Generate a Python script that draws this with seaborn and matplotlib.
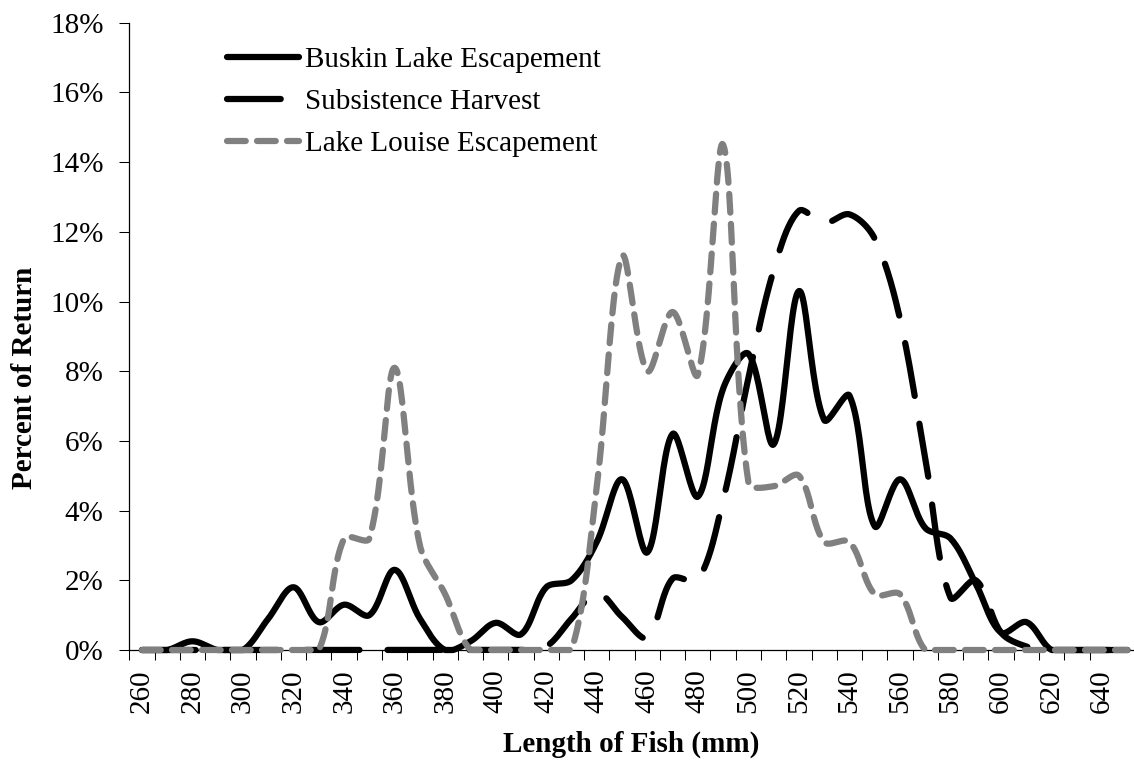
import numpy as np
import seaborn as sns
import matplotlib.pyplot as plt
from matplotlib.ticker import FuncFormatter

# Length classes (mm), one category every 10 mm
lengths = [260, 270, 280, 290, 300, 310, 320, 330, 340, 350,
           360, 370, 380, 390, 400, 410, 420, 430, 440, 450,
           460, 470, 480, 490, 500, 510, 520, 530, 540, 550,
           560, 570, 580, 590, 600, 610, 620, 630, 640, 650]

# Percent of return per length class
buskin = [0, 0, 0.25, 0, 0, 0.9, 1.8, 0.8, 1.3, 1.0,
          2.3, 0.9, 0, 0.25, 0.78, 0.45, 1.8, 2.0, 3.1, 4.9,
          2.8, 6.2, 4.4, 7.5, 8.5, 5.9, 10.3, 6.6, 7.3, 3.55,
          4.9, 3.5, 3.2, 1.9, 0.5, 0.8, 0, 0, 0, 0]
subsistence = [0, 0, 0, 0, 0, 0, 0, 0, 0, 0,
               0, 0, 0, 0, 0, 0, 0.1, 0.9, 1.65, 0.95,
               0.35, 2.05, 2.0, 4.3, 7.8, 10.9, 12.6, 12.25, 12.5, 11.8,
               9.5, 5.5, 1.5, 2.0, 0.5, 0.1, 0, 0, 0, 0]
louise = [0, 0, 0, 0, 0, 0, 0, 0, 3.2, 3.2,
          8.1, 3.0, 1.6, 0, 0, 0, 0, 0, 4.7, 11.3,
          8.0, 9.7, 7.9, 14.5, 4.8, 4.7, 5.0, 3.1, 3.1, 1.6,
          1.6, 0, 0, 0, 0, 0, 0, 0, 0, 0]

tick_labels = [str(v) for v in lengths[:-1:2]]


def smooth(x, y, n=24, sx=2.527, sy=34.85):
    # Excel like smoothed line: bezier segments, control points scaled by the
    # (screen) length of the neighbouring segments
    P = np.column_stack([np.asarray(x, float) * sx, np.asarray(y, float) * sy])
    Q = np.vstack([P[:1], P, P[-1:]])
    fwd, back = [], []
    for i in range(len(P)):
        prev_, cur, next_ = Q[i], Q[i + 1], Q[i + 2]
        T = next_ - prev_
        dp = np.hypot(*(cur - prev_))
        dn = np.hypot(*(next_ - cur))
        if dp + dn == 0:
            fwd.append(cur)
            back.append(cur)
            continue
        fwd.append(cur + T * dn / (dp + dn) / 3)
        back.append(cur - T * dp / (dp + dn) / 3)
    t = np.linspace(0, 1, n, endpoint=False)[:, None]
    pts = []
    for i in range(len(P) - 1):
        p0, p1, p2, p3 = P[i], fwd[i], back[i + 1], P[i + 1]
        pts.append((1 - t) ** 3 * p0 + 3 * (1 - t) ** 2 * t * p1 + 3 * (1 - t) * t ** 2 * p2 + t ** 3 * p3)
    pts.append(P[-1:])
    pts = np.vstack(pts)
    return pts[:, 0] / sx, np.clip(pts[:, 1] / sy, 0, None)


sns.set_style("ticks")
plt.rcParams['font.family'] = ['Liberation Serif', 'DejaVu Serif']
plt.rcParams['text.color'] = 'black'
plt.rcParams['axes.labelcolor'] = 'black'
plt.rcParams['xtick.color'] = 'black'
plt.rcParams['ytick.color'] = 'black'

fig = plt.figure(figsize=(11.34, 7.63), dpi=100)
ax = fig.add_axes([129.3 / 1134, 113 / 763, (1134 - 129.3) / 1134, 627.3 / 763])

series = [
    ("Buskin Lake Escapement", buskin, "black", None),
    ("Subsistence Harvest", subsistence, "black", (8.6, 4.5)),
    ("Lake Louise Escapement", louise, "#808080", (3.0, 1.8)),
]
for name, vals, col, dash in series:
    xs, ys = smooth(lengths, vals)
    sns.lineplot(x=xs, y=ys, sort=False, estimator=None, color=col,
                 linewidth=4.5, label=name, ax=ax, clip_on=False, zorder=3)
    line = ax.lines[-1]
    line.set_solid_capstyle("round")
    line.set_dash_capstyle("round")
    if dash is not None:
        line.set_dashes(dash)

ax.set_xlim(255, 652.6)
ax.set_ylim(0, 18)

# ticks between categories, labels on every other category
ax.set_xticks([v - 5 for v in lengths[:-1]])
ax.set_xticklabels([])
ax.set_xticks(lengths[:-1:2], minor=True)
ax.set_xticklabels(tick_labels, minor=True, rotation=90, fontsize=21)
ax.tick_params(axis="x", which="major", direction="out", length=7.5, width=0.75, color="black")
ax.tick_params(axis="x", which="minor", length=0, pad=14, labelcolor="black")

ax.set_yticks(range(0, 19, 2))
ax.yaxis.set_major_formatter(FuncFormatter(lambda v, p: "%d%%" % v))
ax.tick_params(axis="y", direction="out", length=7.5, width=0.75, pad=11,
               labelsize=21, color="black", labelcolor="black")

sns.despine(ax=ax)
for s in ["left", "bottom"]:
    ax.spines[s].set_linewidth(0.9)
    ax.spines[s].set_color("black")
    ax.spines[s].set_zorder(1)

ax.set_xlabel("Length of Fish (mm)", fontsize=21, fontweight="bold", color="black")
ax.set_ylabel("Percent of Return", fontsize=21, fontweight="bold", color="black")
ax.xaxis.set_label_coords(0.5, -0.128)
ax.yaxis.set_label_coords(-0.091, 0.434)

leg = ax.legend(loc="upper left", bbox_to_anchor=(0.0972, 0.962), frameon=False,
                handlelength=2.47, handletextpad=0.2, labelspacing=0.54,
                borderpad=0, borderaxespad=0, fontsize=21)
for txt in leg.get_texts():
    txt.set_color("black")

plt.savefig("out.png", dpi=100)
